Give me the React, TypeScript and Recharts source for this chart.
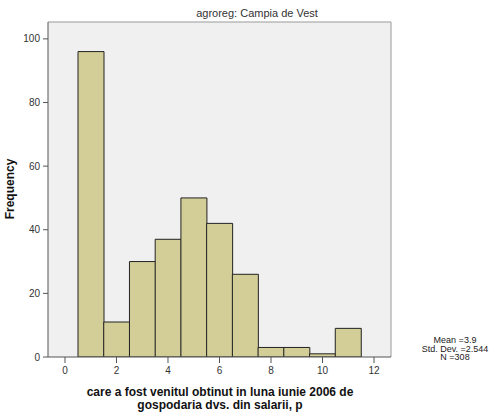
import { Bar, CartesianGrid, ComposedChart, XAxis, YAxis } from 'recharts';

// bin centers (width 1) and their frequencies
const bins = ['1', '2', '3', '4', '5', '6', '7', '8', '9', '10', '11'];
const counts = [96, 11, 30, 37, 50, 42, 26, 3, 3, 1, 9];
const xTicks = [0, 2, 4, 6, 8, 10, 12];
const yTicks = [0, 20, 40, 60, 80, 100];
const stats = ['Mean =3.9', 'Std. Dev. =2.544', 'N =308'];

const data = bins.map((b, i) => ({ bin: b, x: Number(b), count: counts[i] }));

const font = '"Liberation Sans", Arial, sans-serif';
const tickStyle = { fontSize: 10, fill: '#333', fontFamily: font };

const App = () => {
  return (
    <div style={{ position: 'absolute', left: 0, top: 0, width: 498, height: 412, background: '#fff', fontFamily: font }}>
      <ComposedChart
        width={498}
        height={412}
        data={data}
        margin={{ top: 22, right: 107, bottom: 0, left: 0 }}
        barCategoryGap={0}
        barGap={0}
      >
        {/* plot background plus the light top/right frame */}
        <CartesianGrid
          fill="#f0f0f0"
          stroke="#999"
          strokeDasharray=""
          horizontalCoordinatesGenerator={({ offset }: any) => [offset.top]}
          verticalCoordinatesGenerator={({ offset }: any) => [offset.left + offset.width]}
        />
        <XAxis xAxisId="bins" dataKey="bin" type="category" hide height={0} padding={{ left: 30, right: 30 }} />
        <XAxis
          xAxisId="num"
          dataKey="x"
          type="number"
          domain={[-0.66, 12.66]}
          allowDataOverflow
          ticks={xTicks}
          height={55}
          tick={tickStyle}
          tickSize={6}
          tickMargin={4}
          axisLine={{ stroke: '#555' }}
          tickLine={{ stroke: '#555' }}
        />
        <YAxis
          yAxisId="left"
          type="number"
          domain={[0, 105.3]}
          allowDataOverflow
          ticks={yTicks}
          width={48}
          tick={tickStyle}
          tickSize={5}
          tickMargin={3}
          axisLine={{ stroke: '#555' }}
          tickLine={{ stroke: '#555' }}
        />
        <Bar
          xAxisId="bins"
          yAxisId="left"
          dataKey="count"
          fill="#d3ce97"
          stroke="#222"
          strokeWidth={1}
          isAnimationActive={false}
        />
      </ComposedChart>

      <div style={{ position: 'absolute', left: 157, top: 7, width: 200, textAlign: 'center', fontSize: 11, color: '#333' }}>
        agroreg: Campia de Vest
      </div>
      <div
        style={{
          position: 'absolute', left: 10, top: 190, width: 0, height: 0,
        }}
      >
        <div style={{ position: 'absolute', left: -60, top: -8, width: 120, textAlign: 'center', transform: 'rotate(-90deg)', fontSize: 12, fontWeight: 'bold', color: '#111' }}>
          Frequency
        </div>
      </div>
      <div style={{ position: 'absolute', left: 70, top: 386, width: 300, textAlign: 'center', fontSize: 12, fontWeight: 'bold', lineHeight: '13px', color: '#111' }}>
        care a fost venitul obtinut in luna iunie 2006 de
        <br />
        gospodaria dvs. din salarii, p
      </div>
      <div style={{ position: 'absolute', left: 405, top: 336, width: 100, textAlign: 'center', fontSize: 9, lineHeight: '8.5px', color: '#222' }}>
        {stats.map((s) => (
          <div key={s}>{s}</div>
        ))}
      </div>
    </div>
  );
};

export default App;
